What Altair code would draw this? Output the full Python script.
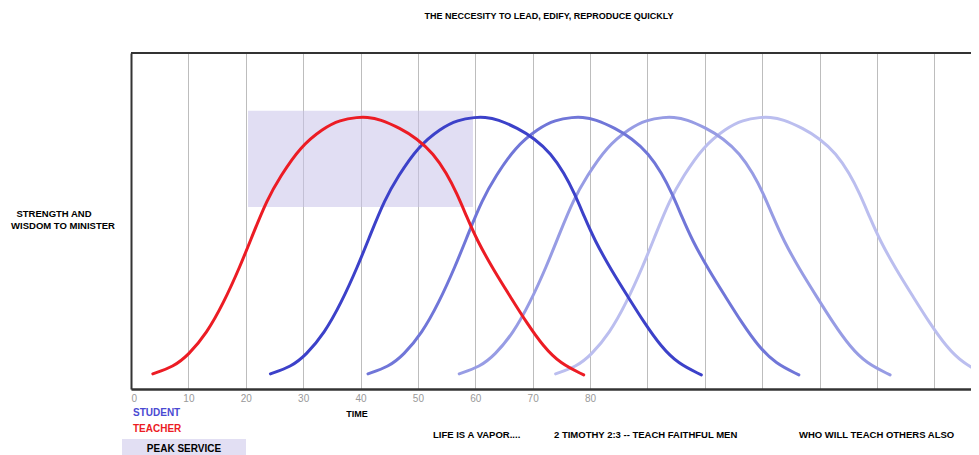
import altair as alt
import pandas as pd

# ---- data ----
teacher_x = [3.8, 7.4, 10.0, 13.2, 16.1, 19.0, 21.3, 23.7, 26.0, 29.5, 33.5, 36.4, 39.6, 41.1, 43.4, 46.9, 49.8, 52.7, 55.0, 56.8, 58.5, 60.3, 63.2, 66.1, 69.0, 71.9, 74.8, 78.9]
curve_y   = [4.5, 6.6, 10.1, 16.6, 25.5, 36.4, 46.3, 56.3, 63.2, 72.1, 77.6, 80.1, 80.9, 80.9, 80.3, 77.6, 74.6, 70.1, 64.2, 58.2, 51.3, 44.3, 35.4, 27.5, 19.6, 12.6, 7.6, 4.2]
student1_x = [24.3, 27.9, 30.5, 33.7, 36.6, 39.5, 41.8, 44.2, 46.5, 50.0, 54.0, 56.9, 60.1, 61.6, 63.9, 67.4, 70.3, 73.2, 75.5, 77.3, 79.0, 80.8, 83.7, 86.6, 89.5, 92.4, 95.3, 99.4]
student2_x = [41.3, 44.9, 47.5, 50.7, 53.6, 56.5, 58.8, 61.2, 63.5, 67.0, 71.0, 73.9, 77.1, 78.6, 80.9, 84.4, 87.3, 90.2, 92.5, 94.3, 96.0, 97.8, 100.7, 103.6, 106.5, 109.4, 112.3, 116.4]
student3_x = [57.2, 60.8, 63.4, 66.6, 69.5, 72.4, 74.7, 77.1, 79.4, 82.9, 86.9, 89.8, 93.0, 94.5, 96.8, 100.3, 103.2, 106.1, 108.4, 110.2, 111.9, 113.7, 116.6, 119.5, 122.4, 125.3, 128.2, 132.3]
student4_x = [74.0, 77.6, 80.2, 83.4, 86.3, 89.2, 91.5, 93.9, 96.2, 99.7, 103.7, 106.6, 109.8, 111.3, 113.6, 117.1, 120.0, 122.9, 125.2, 127.0, 128.7, 130.5, 133.4, 136.3, 139.2, 142.1, 145.0, 149.1]

peak_x = [20.4, 59.6]
peak_y = [54.2, 82.8]

x_grid_values = [0, 10, 20, 30, 40, 50, 60, 70, 80, 90, 100, 110, 120, 130, 140]
x_max = 146.4
y_max = 100

title_text = "THE NECCESITY TO LEAD, EDIFY, REPRODUCE QUICKLY"
ylab_1 = "STRENGTH AND"
ylab_2 = "WISDOM TO MINISTER"
xlab = "TIME"
legend_student = "STUDENT"
legend_teacher = "TEACHER"
legend_peak = "PEAK SERVICE"
foot_1 = "LIFE IS A VAPOR...."
foot_2 = "2 TIMOTHY 2:3 -- TEACH FAITHFUL MEN"
foot_3 = "WHO WILL TEACH OTHERS ALSO"

series = [
    ("student4", student4_x, "#bbbeef"),
    ("student3", student3_x, "#979ce4"),
    ("student2", student2_x, "#7076d8"),
    ("student1", student1_x, "#3c41c9"),
    ("teacher", teacher_x, "#ec1c24"),
]

FONT = "Liberation Sans"

X = alt.X(
    "x:Q",
    scale=alt.Scale(domain=[0, x_max], nice=False, zero=False),
    axis=alt.Axis(
        values=x_grid_values,
        labelExpr="datum.value <= 80 ? datum.label : ''",
        grid=True, gridColor="#bdbdbd", gridWidth=1,
        ticks=False, domain=True, domainColor="#333333", domainWidth=2.5,
        labelColor="#999999", labelFontSize=10, labelFont=FONT, labelPadding=4,
        title=None,
    ),
)
Y = alt.Y(
    "y:Q",
    scale=alt.Scale(domain=[0, y_max], nice=False),
    axis=alt.Axis(
        labels=False, ticks=False, grid=False, domain=True,
        domainColor="#333333", domainWidth=2, title=None,
    ),
)

box_df = pd.DataFrame({"x": [peak_x[0]], "x2": [peak_x[1]], "y": [peak_y[0]], "y2": [peak_y[1]]})
box = alt.Chart(box_df).mark_rect(color="#c9c3ea", opacity=0.55).encode(
    x=X, x2="x2:Q", y=Y, y2="y2:Q"
)

top_border = alt.Chart(pd.DataFrame({"a": [0]})).mark_rule(color="#333333", strokeWidth=2).encode(
    y=alt.datum(y_max)
)

layers = [box, top_border]
for name, xs, col in series:
    df = pd.DataFrame({"x": xs, "y": curve_y})
    layers.append(
        alt.Chart(df).mark_line(
            color=col, strokeWidth=3, interpolate="basis", clip=True, strokeCap="round"
        ).encode(x=X, y=Y)
    )

def txt(text, px, py, size=10, color="#000000", align="center", weight="bold"):
    # px, py: page pixel positions converted to plot-area offsets
    return alt.Chart(pd.DataFrame({"a": [0]})).mark_text(
        font=FONT, fontSize=size, fontWeight=weight, color=color, align=align, baseline="middle"
    ).encode(x=alt.value(px - 131), y=alt.value(py - 53), text=alt.value(text))

legend_box = alt.Chart(pd.DataFrame({"a": [0]})).mark_rect(color="#e2dff3").encode(
    x=alt.value(122 - 131), x2=alt.value(246 - 131), y=alt.value(439 - 53), y2=alt.value(460 - 53)
)

layers += [
    txt(title_text, 549, 16, size=9),
    txt(ylab_1, 54, 214, size=9.5),
    txt(ylab_2, 63, 226, size=9.5),
    txt(legend_student, 133, 413, size=10, color="#4a4ad2", align="left"),
    txt(legend_teacher, 133, 429, size=10, color="#ec1c24", align="left"),
    txt(xlab, 357, 414, size=9),
    legend_box,
    txt(legend_peak, 184, 449, size=10),
    txt(foot_1, 433, 435, size=9.5, align="left"),
    txt(foot_2, 554, 435, size=9.5, align="left"),
    txt(foot_3, 799, 435, size=9.5, align="left"),
]

chart = alt.layer(*layers).properties(
    width=840,
    height=336,
    autosize=alt.AutoSizeParams(type="none"),
    padding={"left": 123, "top": 45, "right": 0, "bottom": 66},
).configure_view(stroke=None)

chart.save("out.html", embed_options={"renderer": "svg", "actions": False})
